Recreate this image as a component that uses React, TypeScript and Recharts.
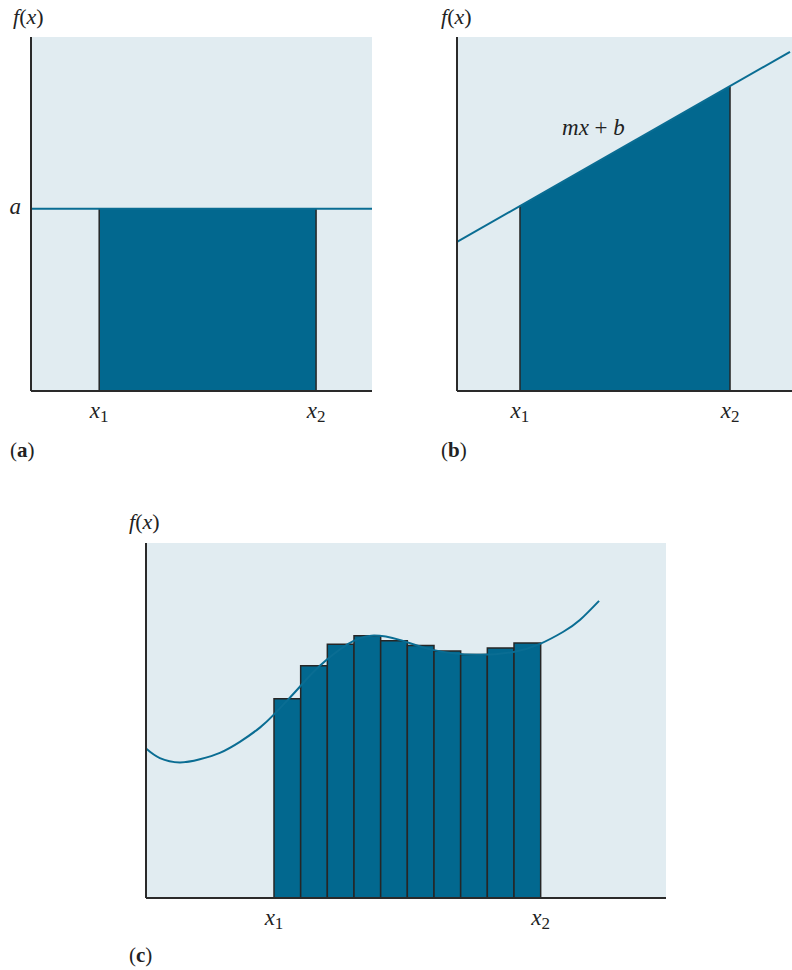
import React from 'react';
import {
  ComposedChart,
  XAxis,
  YAxis,
  Line,
  Area,
  ReferenceArea,
  ReferenceLine,
  CartesianGrid,
} from 'recharts';

const BG = '#e1ecf1';
const FILL = '#02688f';
const CURVE = '#0a6d93';
const AXIS = '#2a2a2a';
const EDGE = '#262626';
const FONT = '"Liberation Serif", "Times New Roman", serif';

// ---------- Panel (a): constant function ----------
const aLine = [
  { x: 0, y: 5.15 },
  { x: 10, y: 5.15 },
];
const aLevel = 5.15;
const aBounds = [2.0, 8.36]; // x1, x2

// ---------- Panel (b): linear function ----------
const bLine = [
  { x: 0, y: 4.21 },
  { x: 9.94, y: 9.58 },
];
const bArea = [
  { x: 1.88, y: 5.23 },
  { x: 8.15, y: 8.61 },
];
const bBounds = [1.88, 8.15];

// ---------- Panel (c): arbitrary curve with rectangles ----------
const cCurve = [
  { x: 0, y: 4.21 },
  { x: 0.52, y: 3.94 },
  { x: 1.27, y: 3.82 },
  { x: 2.02, y: 3.91 },
  { x: 2.77, y: 4.09 },
  { x: 3.52, y: 4.4 },
  { x: 4.27, y: 4.8 },
  { x: 4.84, y: 5.2 },
  { x: 5.34, y: 5.6 },
  { x: 5.77, y: 5.95 },
  { x: 6.52, y: 6.54 },
  { x: 7.57, y: 7.15 },
  { x: 8.45, y: 7.39 },
  { x: 9.51, y: 7.27 },
  { x: 10.75, y: 6.99 },
  { x: 12.39, y: 6.85 },
  { x: 13.78, y: 6.93 },
  { x: 14.78, y: 7.16 },
  { x: 15.65, y: 7.5 },
  { x: 16.27, y: 7.83 },
  { x: 16.99, y: 8.37 },
];
const cBarStarts = [4.8, 5.8, 6.8, 7.8, 8.8, 9.8, 10.8, 11.8, 12.8, 13.8];
const cBarEnds = [5.8, 6.8, 7.8, 8.8, 9.8, 10.8, 11.8, 12.8, 13.8, 14.8];
const cBarHeights = [5.61, 6.54, 7.15, 7.39, 7.25, 7.11, 6.96, 6.86, 7.04, 7.18];
const cBounds = [4.8, 14.8];

// ---------- text ----------
const tickSubs = ['1', '2'];
const panelNames = ['a', 'b', 'c'];
const lineLabel = ['m', 'x', ' + ', 'b'];

function XSubTick(props: any) {
  const { x, y, index } = props;
  return (
    <text x={x} y={y + 19} textAnchor="middle" fontFamily={FONT} fill="#222">
      <tspan fontStyle="italic" fontSize={23}>x</tspan>
      <tspan fontSize={17} dy={4}>{tickSubs[index]}</tspan>
    </text>
  );
}

function YATick(props: any) {
  const { x, y } = props;
  return (
    <text x={x - 2} y={y + 5} textAnchor="end" fontFamily={FONT} fontStyle="italic" fontSize={23} fill="#222">
      a
    </text>
  );
}

const Txt = ({ left, top, size, children }: any) => (
  <div
    style={{
      position: 'absolute',
      left,
      top,
      fontFamily: FONT,
      fontSize: size,
      lineHeight: 1,
      color: '#222',
      whiteSpace: 'nowrap',
    }}
  >
    {children}
  </div>
);

const FX = ({ left, top }: any) => (
  <Txt left={left} top={top} size={22}>
    <i>f</i>(<i>x</i>)
  </Txt>
);

const PanelName = ({ left, top, name }: any) => (
  <Txt left={left} top={top} size={21}>
    (<b>{name}</b>)
  </Txt>
);

const axisLine = { stroke: AXIS, strokeWidth: 2 };

function PanelA() {
  return (
    <ComposedChart width={400} height={440} margin={{ top: 37, right: 28, bottom: 0, left: 0 }}>
      <CartesianGrid fill={BG} stroke="none" horizontal={false} vertical={false} />
      <XAxis
        type="number"
        dataKey="x"
        domain={[0, 10]}
        ticks={aBounds}
        interval={0}
        tickLine={false}
        axisLine={axisLine}
        tick={<XSubTick />}
        height={49}
        allowDataOverflow
      />
      <YAxis
        type="number"
        dataKey="y"
        domain={[0, 10]}
        ticks={[aLevel]}
        interval={0}
        tickLine={false}
        axisLine={axisLine}
        tick={<YATick />}
        width={31}
        allowDataOverflow
      />
      <ReferenceArea x1={aBounds[0]} x2={aBounds[1]} y1={0} y2={aLevel} fill={FILL} fillOpacity={1} stroke="none" />
      <ReferenceLine segment={[{ x: aBounds[0], y: 0 }, { x: aBounds[0], y: aLevel }]} stroke={EDGE} strokeWidth={1.5} />
      <ReferenceLine segment={[{ x: aBounds[1], y: 0 }, { x: aBounds[1], y: aLevel }]} stroke={EDGE} strokeWidth={1.5} />
      <Line data={aLine} dataKey="y" type="linear" stroke={CURVE} strokeWidth={2} dot={false} isAnimationActive={false} />
    </ComposedChart>
  );
}

function PanelB() {
  return (
    <ComposedChart width={372} height={440} margin={{ top: 37, right: 0, bottom: 0, left: 0 }}>
      <CartesianGrid fill={BG} stroke="none" horizontal={false} vertical={false} />
      <XAxis
        type="number"
        dataKey="x"
        domain={[0, 10]}
        ticks={bBounds}
        interval={0}
        tickLine={false}
        axisLine={axisLine}
        tick={<XSubTick />}
        height={49}
        allowDataOverflow
      />
      <YAxis type="number" dataKey="y" domain={[0, 10]} tick={false} tickLine={false} axisLine={axisLine} width={37} allowDataOverflow />
      <Area
        data={bArea}
        dataKey="y"
        type="linear"
        baseValue={0}
        fill={FILL}
        fillOpacity={1}
        stroke="none"
        isAnimationActive={false}
      />
      <ReferenceLine segment={[{ x: bArea[0].x, y: 0 }, { x: bArea[0].x, y: bArea[0].y }]} stroke={EDGE} strokeWidth={1.5} />
      <ReferenceLine segment={[{ x: bArea[1].x, y: 0 }, { x: bArea[1].x, y: bArea[1].y }]} stroke={EDGE} strokeWidth={1.5} />
      <Line data={bLine} dataKey="y" type="linear" stroke={CURVE} strokeWidth={2} dot={false} isAnimationActive={false} />
    </ComposedChart>
  );
}

function PanelC() {
  return (
    <ComposedChart width={600} height={440} margin={{ top: 43, right: 34, bottom: 0, left: 0 }}>
      <CartesianGrid fill={BG} stroke="none" horizontal={false} vertical={false} />
      <XAxis
        type="number"
        dataKey="x"
        domain={[0, 19.5]}
        ticks={cBounds}
        interval={0}
        tickLine={false}
        axisLine={axisLine}
        tick={<XSubTick />}
        height={42}
        allowDataOverflow
      />
      <YAxis type="number" dataKey="y" domain={[0, 10]} tick={false} tickLine={false} axisLine={axisLine} width={46} allowDataOverflow />
      <Line data={cCurve} dataKey="y" type="natural" stroke={CURVE} strokeWidth={2} dot={false} isAnimationActive={false} />
      {cBarHeights.map((h, i) => (
        <ReferenceArea
          key={i}
          x1={cBarStarts[i]}
          x2={cBarEnds[i]}
          y1={0}
          y2={h}
          fill={FILL}
          fillOpacity={1}
          stroke={EDGE}
          strokeWidth={1.5}
        />
      ))}
    </ComposedChart>
  );
}

export default function App() {
  return (
    <div style={{ position: 'absolute', left: 0, top: 0, width: 792, height: 970, background: '#fff', overflow: 'hidden' }}>
      <div style={{ position: 'absolute', left: 0, top: 0 }}>
        <PanelA />
      </div>
      <div style={{ position: 'absolute', left: 420, top: 0 }}>
        <PanelB />
      </div>
      <div style={{ position: 'absolute', left: 100, top: 500 }}>
        <PanelC />
      </div>
      <FX left={13} top={6} />
      <FX left={441} top={6} />
      <FX left={129} top={511} />
      <PanelName left={10} top={440} name={panelNames[0]} />
      <PanelName left={441} top={440} name={panelNames[1]} />
      <PanelName left={129} top={945} name={panelNames[2]} />
      <Txt left={562} top={116} size={23}>
        <i>{lineLabel[0]}{lineLabel[1]}</i>
        {lineLabel[2]}
        <i>{lineLabel[3]}</i>
      </Txt>
    </div>
  );
}
